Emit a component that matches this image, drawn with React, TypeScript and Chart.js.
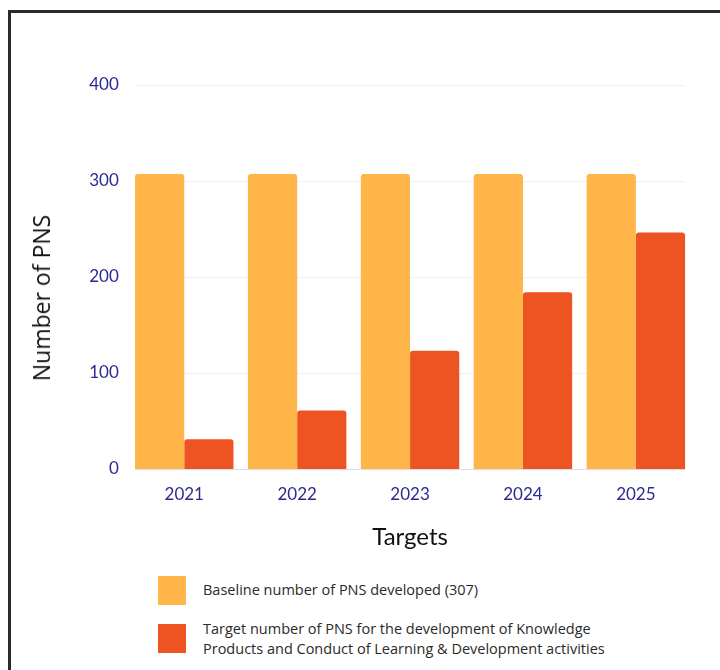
import React, { useEffect, useRef } from "react";
import { Chart, registerables } from "chart.js";

Chart.register(...registerables);

const categories = ["2021", "2022", "2023", "2024", "2025"];
const baselineValues = [307, 307, 307, 307, 307];
const targetValues = [31, 61, 123, 184, 246];
const seriesLabels = [
  "Baseline number of PNS developed (307)",
  "Target number of PNS for the development of Knowledge Products and Conduct of Learning & Development activities",
];
const seriesColors = ["#FFB547", "#EE5322"];
const yTickValues = [0, 100, 200, 300, 400];
const xTitle = "Targets";
const yTitle = "Number of PNS";

const TICK_COLOR = "#2c2a8c";

const barGridPlugin = {
  id: "barGrid",
  beforeDatasetsDraw(chart: any) {
    const first = chart.getDatasetMeta(0).data[0];
    const lastMeta = chart.getDatasetMeta(chart.data.datasets.length - 1);
    const last = lastMeta.data[lastMeta.data.length - 1];
    if (!first || !last) return;
    const x0 = first.x - first.width / 2;
    const x1 = last.x + last.width / 2;
    const ys = chart.scales.y;
    const ctx = chart.ctx;
    ctx.save();
    ctx.lineWidth = 1;
    for (const t of ys.ticks) {
      const py = Math.round(ys.getPixelForValue(t.value)) + 0.5;
      ctx.strokeStyle = t.value === 0 ? "#dcdcef" : "#efeff4";
      ctx.beginPath();
      ctx.moveTo(x0, py);
      ctx.lineTo(x1, py);
      ctx.stroke();
    }
    ctx.restore();
  },
};

function ChartCanvas() {
  const ref = useRef<HTMLCanvasElement | null>(null);
  useEffect(() => {
    if (!ref.current) return;
    const chart = new Chart(ref.current, {
      type: "bar",
      data: {
        labels: categories,
        datasets: [
          {
            label: seriesLabels[0],
            data: baselineValues,
            backgroundColor: seriesColors[0],
            borderRadius: { topLeft: 3, topRight: 3, bottomLeft: 0, bottomRight: 0 },
            borderSkipped: "start",
          },
          {
            label: seriesLabels[1],
            data: targetValues,
            backgroundColor: seriesColors[1],
            borderRadius: { topLeft: 3, topRight: 3, bottomLeft: 0, bottomRight: 0 },
            borderSkipped: "start",
          },
        ],
      },
      options: {
        responsive: false,
        animation: false,
        layout: { padding: { left: 28, right: 27.7, top: 84.6, bottom: 0 } },
        plugins: {
          legend: { display: false },
          tooltip: { enabled: false },
        },
        datasets: {
          bar: { categoryPercentage: 0.872, barPercentage: 1.0 },
        },
        scales: {
          x: {
            grid: { display: false, drawTicks: false },
            border: { display: false },
            ticks: {
              color: TICK_COLOR,
              font: { family: "Lato", size: 17 },
              padding: 15,
            },
            title: {
              display: true,
              text: xTitle,
              color: "#111111",
              font: { family: "Lato", size: 24 },
              padding: { top: 3.2, bottom: 8.6 },
            },
          },
          y: {
            min: 0,
            max: 400,
            afterFit: (s: any) => {
              s.width = 99.8;
            },
            afterBuildTicks: (s: any) => {
              s.ticks = yTickValues.map((v) => ({ value: v }));
            },
            grid: { display: false, drawTicks: false },
            border: { display: false },
            ticks: {
              color: TICK_COLOR,
              font: { family: "Lato", size: 17 },
              padding: 9,
            },
            title: { display: false, text: yTitle },
          },
        },
      },
      plugins: [barGridPlugin],
    });
    return () => chart.destroy();
  }, []);
  return (
    <canvas
      ref={ref}
      width={720}
      height={560}
      style={{ position: "absolute", left: 0, top: 0, width: 720, height: 560 }}
    />
  );
}

export default function App() {
  const textStyle: React.CSSProperties = {
    position: "absolute",
    left: 203,
    fontFamily: "'Open Sans', sans-serif",
    fontSize: 14.5,
    color: "#2a2a2a",
    lineHeight: "20.5px",
    width: 420,
    whiteSpace: "normal",
  };
  return (
    <div
      style={{
        position: "fixed",
        left: 0,
        top: 0,
        width: 720,
        height: 670,
        overflow: "hidden",
        background: "#ffffff",
      }}
    >
      <div
        style={{
          position: "absolute",
          left: 8,
          top: 10,
          width: 740,
          height: 700,
          borderLeft: "3px solid #2b2b2b",
          borderTop: "3px solid #2b2b2b",
          boxSizing: "border-box",
        }}
      />
      <ChartCanvas />
      <div
        style={{
          position: "absolute",
          left: 41,
          top: 298,
          transform: "translate(-50%, -50%) rotate(-90deg)",
          fontFamily: "'Open Sans', sans-serif",
          fontSize: 23,
          color: "#111111",
          whiteSpace: "nowrap",
          lineHeight: "28px",
        }}
      >
        {yTitle}
      </div>
      <div
        style={{
          position: "absolute",
          left: 158,
          top: 576,
          width: 28,
          height: 29,
          background: seriesColors[0],
        }}
      />
      <div style={{ ...textStyle, top: 580 }}>{seriesLabels[0]}</div>
      <div
        style={{
          position: "absolute",
          left: 158,
          top: 624,
          width: 28,
          height: 29,
          background: seriesColors[1],
        }}
      />
      <div style={{ ...textStyle, top: 618.5 }}>{seriesLabels[1]}</div>
    </div>
  );
}
